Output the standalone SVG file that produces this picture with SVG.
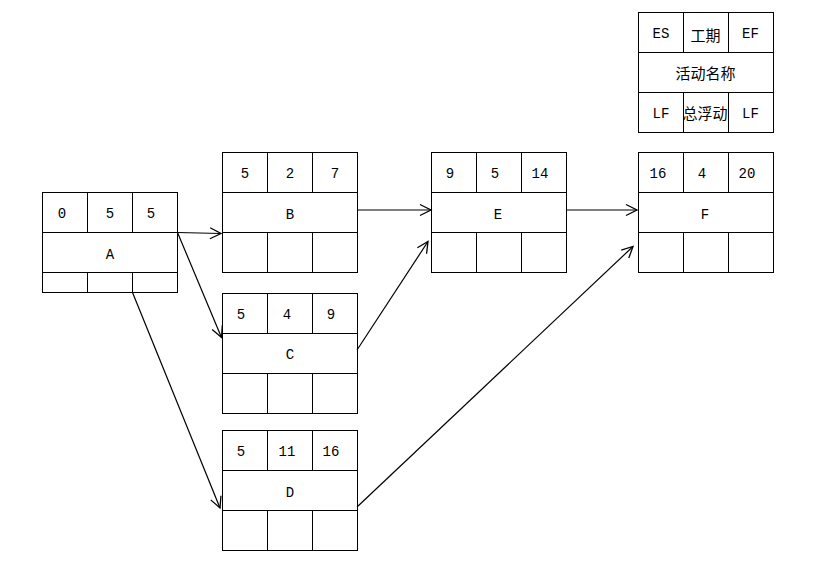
<svg xmlns="http://www.w3.org/2000/svg" width="817" height="563" viewBox="0 0 817 563">
<style>
.b{fill:#fff;stroke:#000;stroke-width:1}
.l{stroke:#000;stroke-width:1;fill:none}
.t{font-family:"Liberation Mono","Noto Sans CJK SC",monospace;font-size:14px;fill:#000;text-anchor:middle}
.c{font-family:"Noto Sans CJK SC",sans-serif;font-size:15px;fill:#000;text-anchor:middle}
.e{stroke:#000;stroke-width:1.2;fill:none;marker-end:url(#ah)}
</style>
<defs>
<marker id="ah" markerUnits="userSpaceOnUse" markerWidth="16" markerHeight="16" refX="12" refY="6" orient="auto" viewBox="0 0 16 12">
<path d="M1,0.5 L12,6 L1,11.5" fill="none" stroke="#000" stroke-width="1.3"/>
</marker>
</defs>
<rect width="817" height="563" fill="#fff"/>

<g id="legend">
<rect class="b" x="638.5" y="12.5" width="135" height="120"/>
<path class="l" d="M638.5 52.5H773.5M638.5 92.5H773.5M683.5 12.5V52.5M728.5 12.5V52.5M683.5 92.5V132.5M728.5 92.5V132.5"/>
<text class="t" x="661" y="38">ES</text>
<text class="c" x="705.5" y="41">工期</text>
<text class="t" x="750.5" y="38">EF</text>
<text class="c" x="705.5" y="79">活动名称</text>
<text class="t" x="661" y="118">LF</text>
<text class="c" x="705" y="119">总浮动</text>
<text class="t" x="750.5" y="118">LF</text>
</g>

<g id="A">
<rect class="b" x="42.5" y="192.5" width="135" height="100"/>
<path class="l" d="M42.5 232.5H177.5M42.5 272.5H177.5M87.5 192.5V232.5M132.5 192.5V232.5M87.5 272.5V292.5M132.5 272.5V292.5"/>
<text class="t" x="62" y="218">0</text>
<text class="t" x="110" y="218">5</text>
<text class="t" x="151" y="218">5</text>
<text class="t" x="110" y="259">A</text>
</g>

<g id="B">
<rect class="b" x="222.5" y="152.5" width="135" height="120"/>
<path class="l" d="M222.5 192.5H357.5M222.5 232.5H357.5M267.5 152.5V192.5M312.5 152.5V192.5M267.5 232.5V272.5M312.5 232.5V272.5"/>
<text class="t" x="245" y="178">5</text>
<text class="t" x="290" y="178">2</text>
<text class="t" x="335" y="178">7</text>
<text class="t" x="290" y="219">B</text>
</g>

<g id="C">
<rect class="b" x="222.5" y="293.5" width="135" height="120"/>
<path class="l" d="M222.5 333.5H357.5M222.5 373.5H357.5M267.5 293.5V333.5M312.5 293.5V333.5M267.5 373.5V413.5M312.5 373.5V413.5"/>
<text class="t" x="241" y="319">5</text>
<text class="t" x="287" y="319">4</text>
<text class="t" x="331" y="319">9</text>
<text class="t" x="290" y="359">C</text>
</g>

<g id="D">
<rect class="b" x="222.5" y="430.5" width="135" height="120"/>
<path class="l" d="M222.5 470.5H357.5M222.5 510.5H357.5M267.5 430.5V470.5M312.5 430.5V470.5M267.5 510.5V550.5M312.5 510.5V550.5"/>
<text class="t" x="241" y="456">5</text>
<text class="t" x="287" y="456">11</text>
<text class="t" x="331" y="456">16</text>
<text class="t" x="290" y="497">D</text>
</g>

<g id="E">
<rect class="b" x="431.5" y="152.5" width="135" height="120"/>
<path class="l" d="M431.5 192.5H566.5M431.5 232.5H566.5M476.5 152.5V192.5M521.5 152.5V192.5M476.5 232.5V272.5M521.5 232.5V272.5"/>
<text class="t" x="450" y="178">9</text>
<text class="t" x="495" y="178">5</text>
<text class="t" x="540" y="178">14</text>
<text class="t" x="498" y="219">E</text>
</g>

<g id="F">
<rect class="b" x="638.5" y="152.5" width="135" height="120"/>
<path class="l" d="M638.5 192.5H773.5M638.5 232.5H773.5M683.5 152.5V192.5M728.5 152.5V192.5M683.5 232.5V272.5M728.5 232.5V272.5"/>
<text class="t" x="658" y="178">16</text>
<text class="t" x="702" y="178">4</text>
<text class="t" x="747" y="178">20</text>
<text class="t" x="705" y="219">F</text>
</g>

<g id="connectors">
<path class="e" d="M177.5 232.5L221 233.5"/>
<path class="e" d="M177.5 232.5L221.5 337.5"/>
<path class="e" d="M132.5 292.5L220 508"/>
<path class="e" d="M357.5 210L431 210"/>
<path class="e" d="M357 350L428 241.5"/>
<path class="e" d="M566 210L637 210"/>
<path class="e" d="M357 507L633 246.5"/>
</g>
</svg>
